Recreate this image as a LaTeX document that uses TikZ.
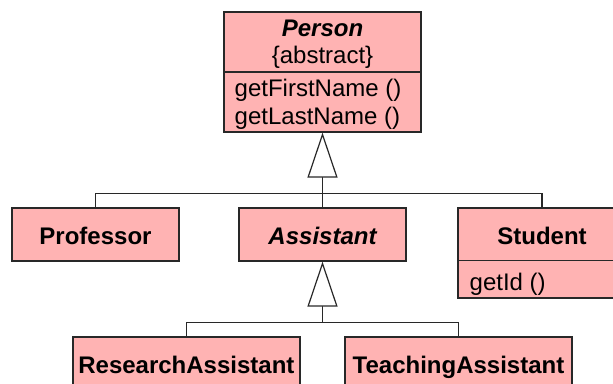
\documentclass[tikz,border=0pt]{standalone}
\usepackage{fontspec}
\setmainfont{Liberation Sans}
\usetikzlibrary{arrows.meta,calc}
\definecolor{classfill}{RGB}{255,179,179}
\definecolor{classline}{RGB}{40,40,40}
\tikzset{
  classbox/.style={draw=classline, fill=classfill, line width=1.25pt, inner sep=0pt},
  divider/.style={draw=classline, line width=1.25pt},
  txt/.style={inner sep=0pt, font=\fontsize{24}{27}\selectfont},
  title/.style={txt, font=\fontsize{24}{27}\selectfont\bfseries},
  abstitle/.style={txt, font=\fontsize{24}{27}\selectfont\bfseries\itshape},
  link/.style={draw=classline, line width=1.2pt},
  inherit/.style={link, -{Triangle[open, fill=white, length=45pt, width=30pt, line width=1.2pt]}}
}
\begin{document}
\begin{tikzpicture}[x=1pt, y=-1pt]
  \useasboundingbox (0,0) rectangle (613,383);
  \clip (0,0) rectangle (613,383);
  \fill[white] (0,0) rectangle (613,383);

  % class boxes
  \node[classbox, minimum width=197pt, minimum height=120pt] (person) at (322.5,72) {};
  \node[classbox, minimum width=167pt, minimum height=53pt] (prof) at (95.5,234.5) {};
  \node[classbox, minimum width=167pt, minimum height=53pt] (assistant) at (322.5,234.5) {};
  \node[classbox, minimum width=168pt, minimum height=90pt] (student) at (542,253) {};
  \node[classbox, minimum width=227pt, minimum height=53pt] (ra) at (186.4,363.5) {};
  \node[classbox, minimum width=227pt, minimum height=53pt] (ta) at (458.5,363.5) {};

  % compartment dividers
  \draw[divider] (person.west) -- (person.east);
  \draw[divider] ($(student.north west)+(0,53)$) coordinate (sdl) -- (sdl -| student.east);

  % class names and operations
  \node[abstitle, anchor=base] (personname) at (322.5,36) {Person};
  \node[txt, anchor=base] (personstereo) at (322.5,63) {\{abstract\}};
  \node[txt, anchor=base west] (opfirst) at (234.5,96) {getFirstName ()};
  \node[txt, anchor=base west] (oplast) at (234.5,124) {getLastName ()};
  \node[title, anchor=base] (profname) at (95.5,244) {Professor};
  \node[abstitle, anchor=base] (assistname) at (322.5,244) {Assistant};
  \node[title, anchor=base] (studname) at (542,244) {Student};
  \node[txt, anchor=base west] (opid) at (469.5,290) {getId ()};
  \node[title, anchor=base] (raname) at (186.4,373) {ResearchAssistant};
  \node[title, anchor=base] (taname) at (458.5,373) {TeachingAssistant};

  % generalisation trees
  \coordinate (j1) at ($(person.south)+(0,61)$);
  \draw[inherit] (assistant.north) -- (person.south);
  \draw[link] (prof.north) |- (j1) -| (student.north);

  \coordinate (j2) at ($(assistant.south)+(0,61)$);
  \draw[inherit] (j2) -- (assistant.south);
  \draw[link] (ra.north) |- (j2) -| (ta.north);
\end{tikzpicture}
\end{document}
